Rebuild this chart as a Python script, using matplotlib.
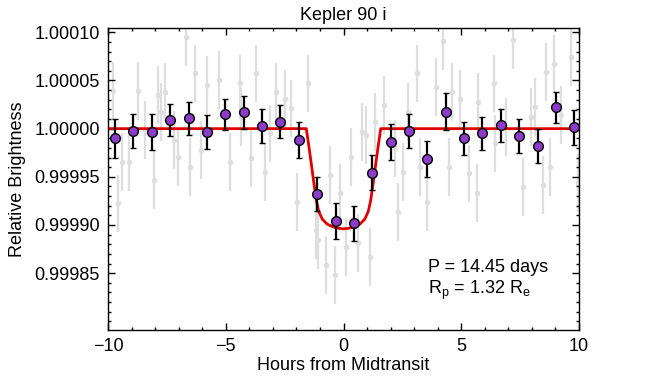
import matplotlib
matplotlib.use("Agg")
import matplotlib.pyplot as plt
from matplotlib.ticker import MultipleLocator, FixedLocator, FormatStrFormatter

# raw (unbinned) points, hours from midtransit and relative brightness
raw_hours = [-9.77, -9.59, -9.40, -9.09, -8.74, -8.41, -8.03, -7.89, -7.74, -7.56,
             -7.18, -7.03, -6.68, -6.51, -6.30, -6.04, -5.80, -5.28, -4.84, -4.41,
             -4.34, -3.91, -3.70, -3.35, -3.14, -2.85, -2.50, -2.21, -1.97, -1.50,
             -1.15, -1.08, -0.75, -0.58, -0.37, -0.13, 0.09, 0.30, 0.63, 0.77,
             0.95, 1.12, 1.33, 1.71, 2.18, 2.33, 2.54, 2.75, 3.11, 3.25,
             3.56, 3.91, 4.24, 4.46, 4.60, 4.95, 5.31, 5.66, 5.73, 6.37,
             6.44, 6.91, 7.18, 7.62, 7.96, 8.11, 8.47, 8.61, 8.75, 8.95,
             9.25, 9.65, 9.94]
raw_flux = [1.0000389, 0.9999224, 0.9999656, 0.9999656, 1.0000389, 0.9999984, 0.9999466, 1.0000348, 1.0000174, 1.0000382,
            0.9999881, 0.9999707, 1.0000952, 0.9999604, 1.0000573, 0.9999777, 1.0000451, 1.0000503, 0.9999656, 1.0000469,
            1.0000122, 0.9999691, 1.0000573, 0.9999552, 0.9999950, 1.0000382, 1.0000313, 1.0000210, 0.9999241, 1.0000469,
            0.9998947, 0.9998843, 0.9998583, 0.9999518, 0.9998480, 0.9999328, 0.9998774, 0.9999707, 0.9998809, 0.9999967,
            0.9999933, 0.9998670, 1.0000071, 1.0000244, 0.9999795, 0.9999137, 0.9999552, 1.0000174, 1.0000573, 0.9999604,
            0.9999241, 1.0000434, 1.0000908, 0.9999604, 1.0000382, 1.0000313, 0.9999535, 0.9999328, 1.0000278, 1.0000469,
            0.9999846, 1.0000019, 1.0000918, 0.9999396, 1.0000122, 1.0000226, 0.9999414, 1.0000589, 0.9999604, 1.0000676,
            1.0000140, 1.0000745, 0.9999432]
raw_err = 0.0000300

# binned points
bin_hours = [-9.70, -8.92, -8.14, -7.36, -6.58, -5.80, -5.02, -4.24, -3.46, -2.68,
             -1.90, -1.12, -0.34, 0.44, 1.22, 2.00, 2.78, 3.56, 4.34, 5.12,
             5.90, 6.68, 7.46, 8.24, 9.02, 9.80]
bin_flux = [0.9999898, 0.9999977, 0.9999967, 1.0000088, 1.0000106, 0.9999967, 1.0000148, 1.0000168, 1.0000026, 1.0000071,
            0.9999881, 0.9999320, 0.9999044, 0.9999017, 0.9999542, 0.9999863, 0.9999977, 0.9999687, 1.0000178, 0.9999898,
            0.9999950, 1.0000033, 0.9999922, 0.9999822, 1.0000220, 1.0000012]
bin_err = [0.0000200, 0.0000178, 0.0000185, 0.0000165, 0.0000170, 0.0000175, 0.0000165, 0.0000175, 0.0000175, 0.0000170,
           0.0000185, 0.0000180, 0.0000185, 0.0000180, 0.0000180, 0.0000185, 0.0000180, 0.0000185, 0.0000194, 0.0000168,
           0.0000175, 0.0000170, 0.0000175, 0.0000175, 0.0000165, 0.0000180]

# transit model
model_hours = [-10.0, -1.58, -1.45, -1.35, -1.25, -1.15, -1.05, -0.90, -0.70, -0.45, -0.20, 0.00,
               0.20, 0.45, 0.70, 0.90, 1.05, 1.15, 1.25, 1.35, 1.45, 1.58, 10.0]
model_flux = [1.0, 1.0, 0.999978, 0.999960, 0.999942, 0.999925, 0.999914, 0.999906, 0.999901, 0.999898, 0.9998965, 0.999896,
              0.9998965, 0.999898, 0.999901, 0.999906, 0.999914, 0.999925, 0.999942, 0.999960, 0.999978, 1.0, 1.0]

y_ticks = [0.99985, 0.99990, 0.99995, 1.00000, 1.00005, 1.00010]

titolo = "Kepler 90 i"
periodo_txt = "P = 14.45 days"
raggio_txt = r"R$_\mathregular{p}$ = 1.32 R$_\mathregular{e}$"

plt.rcParams["font.family"] = ["Liberation Sans", "DejaVu Sans"]
fs = 13

fig = plt.figure(figsize=(6.64, 3.85), dpi=100)
ax = fig.add_axes([0.1627, 0.1429, 0.7093, 0.7844])

ax.errorbar(raw_hours, raw_flux, yerr=raw_err, fmt="o", color="#dedede", ms=3,
            elinewidth=1.6, capsize=0, zorder=1)
ax.plot(model_hours, model_flux, color="#e00000", lw=2.0, zorder=2)
ax.errorbar(bin_hours, bin_flux, yerr=bin_err, fmt="o", mfc="#8c3cc8", mec="black", mew=1.0,
            ms=7, ecolor="black", elinewidth=1.6, capsize=2.5, capthick=1.6, zorder=3)

ax.set_xlim(-10, 10)
ax.set_ylim(0.999791, 1.0001045)
ax.xaxis.set_major_locator(MultipleLocator(5))
ax.xaxis.set_minor_locator(MultipleLocator(1))
ax.yaxis.set_major_locator(FixedLocator(y_ticks))
ax.yaxis.set_minor_locator(MultipleLocator(0.00001))
ax.yaxis.set_major_formatter(FormatStrFormatter("%.5f"))
ax.tick_params(which="both", direction="in", top=True, right=True, width=1.0)
ax.tick_params(which="major", length=5, labelsize=fs, pad=6)
ax.tick_params(which="minor", length=2.5)
for s in ax.spines.values():
    s.set_linewidth(1.0)

ax.set_title(titolo, fontsize=fs, pad=6)
ax.set_xlabel("Hours from Midtransit", fontsize=fs, labelpad=1)
ax.set_ylabel("Relative Brightness", fontsize=fs, labelpad=6)

ax.text(3.57, 0.999856, periodo_txt, fontsize=fs, va="center", ha="left")
ax.text(3.57, 0.999832, raggio_txt, fontsize=fs, va="center", ha="left")

fig.savefig("out.png", dpi=100)
plt.close(fig)
